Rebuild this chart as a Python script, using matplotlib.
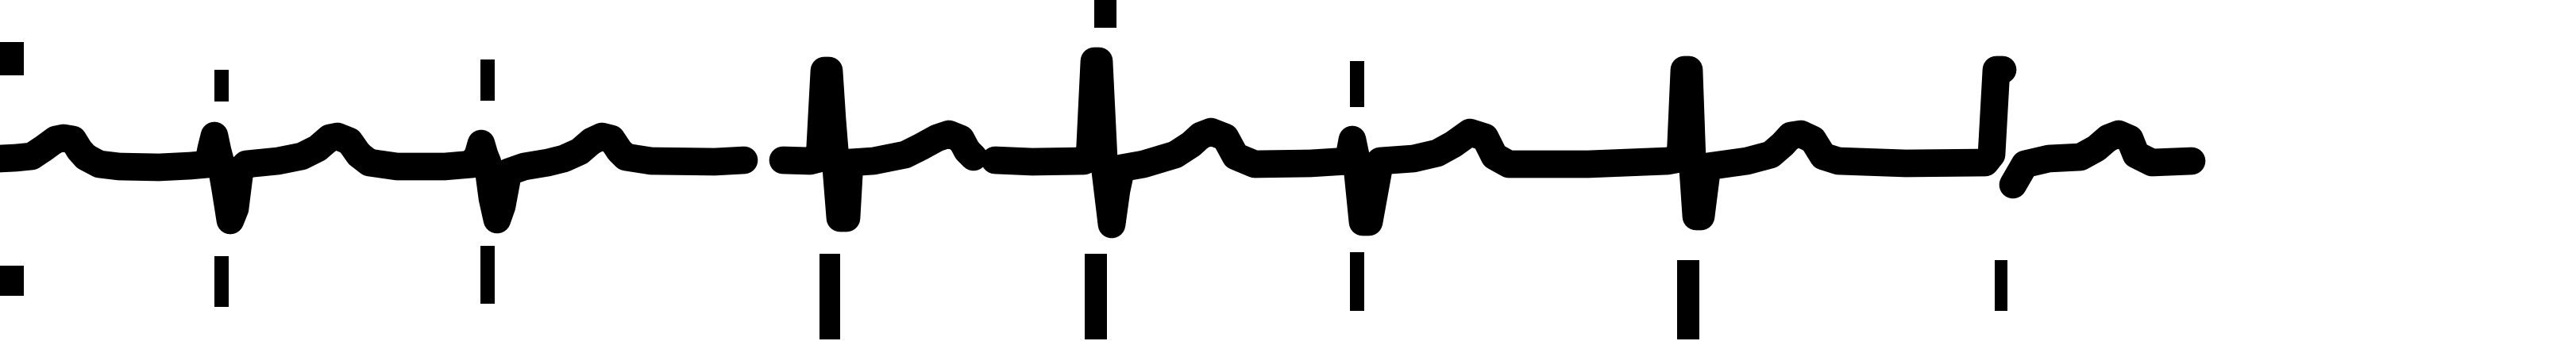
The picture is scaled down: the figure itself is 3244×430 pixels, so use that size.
import numpy as np
import matplotlib
matplotlib.use("Agg")
import matplotlib.pyplot as plt

nan = np.nan

# ECG trace: sample index and amplitude (mV); NaN marks breaks in the recording
samples = [
    0, 20, 40, 55, 70, 80, 92, 100, 108, 125, 150, 200, 240, 262, 266, 270, 274, 278,
    284, 290, 296, 302, 310, 350, 380, 400, 415, 425, 440, 452, 465, 500, 560, 595,
    602, 606, 610, 614, 620, 626, 632, 640, 660, 690, 710, 730, 745, 758, 770, 780,
    788, 820, 900, 937,
    950,
    986, 1020, 1032, 1038, 1044, 1048, 1058, 1066, 1070, 1100, 1140, 1160, 1180, 1195,
    1210, 1218, 1226,
    1240,
    1253, 1300, 1365, 1372, 1378, 1384, 1390, 1400, 1406, 1412, 1440, 1480, 1500, 1512,
    1525, 1543, 1556, 1580, 1650, 1698, 1703, 1708, 1716, 1724, 1738, 1780, 1810, 1830,
    1851, 1870, 1882, 1900, 2000, 2100, 2116, 2121, 2127, 2131, 2136, 2142, 2150, 2200,
    2230, 2245, 2255, 2268, 2283, 2296, 2315, 2400, 2500, 2508, 2514, 2522,
    2530,
    2535, 2550, 2580, 2620, 2640, 2655, 2668, 2682, 2690, 2710, 2760,
]
amplitude = [
    0.05, 0.06, 0.08, 0.18, 0.29, 0.31, 0.29, 0.16, 0.07, -0.02, -0.05, -0.06, -0.04, -0.02, 0.18, 0.34, 0.15, 0.00,
    -0.35, -0.73, -0.58, -0.10, -0.02, 0.02, 0.08, 0.18, 0.31, 0.33, 0.27, 0.10, 0.00, -0.05, -0.05, -0.02,
    0.10, 0.24, 0.10, 0.00, -0.45, -0.72, -0.55, -0.12, -0.05, 0.00, 0.05, 0.14, 0.27, 0.33, 0.30, 0.15,
    0.07, 0.02, 0.01, 0.03,
    nan,
    0.03, 0.02, 0.05, 1.16, 1.16, 0.55, -0.70, -0.70, 0.00, 0.02, 0.10, 0.20, 0.31, 0.36,
    0.30, 0.15, 0.07,
    nan,
    0.03, 0.01, 0.02, 0.05, 1.28, 1.28, 0.05, -0.78, -0.35, -0.07, -0.02, 0.10, 0.23, 0.34,
    0.39, 0.32, 0.08, -0.02, -0.01, 0.02, 0.29, 0.05, -0.75, -0.75, 0.02, 0.05, 0.12, 0.23,
    0.38, 0.32, 0.08, -0.02, -0.02, 0.02, 0.05, 1.17, 1.17, 0.05, -0.68, -0.68, -0.05, 0.02,
    0.10, 0.23, 0.34, 0.36, 0.29, 0.08, 0.02, -0.01, 0.00, 0.10, 1.17, 1.17,
    nan,
    -0.28, -0.02, 0.05, 0.07, 0.18, 0.31, 0.36, 0.30, 0.10, 0.00, 0.02,
]

# Beat annotation markers (vertical dashes above / below the trace)
top_mark_x = [15, 279, 614, 1392, 1709]
top_mark_width = [30, 18, 18, 28, 18]
top_mark_hi = [1.52, 1.17, 1.30, 2.05, 1.28]
top_mark_lo = [1.10, 0.77, 0.78, 1.70, 0.70]

bottom_mark_x = [15, 279, 614, 1045, 1380, 1709, 2126, 2520]
bottom_mark_width = [30, 18, 18, 26, 28, 18, 28, 16]
bottom_mark_hi = [-1.30, -1.18, -1.05, -1.15, -1.15, -1.13, -1.23, -1.23]
bottom_mark_lo = [-1.68, -1.82, -1.78, -2.23, -2.23, -1.87, -2.23, -1.87]

fig = plt.figure(figsize=(32.44, 4.30), dpi=100)
ax = fig.add_axes([0, 0, 1, 1])
ax.plot(samples, amplitude, color="black", lw=25, solid_joinstyle="round",
        solid_capstyle="round")

for x, w, hi, lo in zip(top_mark_x, top_mark_width, top_mark_hi, top_mark_lo):
    ax.bar(x, hi - lo, bottom=lo, width=w, color="black", linewidth=0)
for x, w, hi, lo in zip(bottom_mark_x, bottom_mark_width, bottom_mark_hi, bottom_mark_lo):
    ax.bar(x, hi - lo, bottom=lo, width=w, color="black", linewidth=0)

ax.set_xlim(0, 3244)
ax.set_ylim(-2.25, 2.05)
ax.axis("off")
fig.savefig("out.png", dpi=100, facecolor="white")
